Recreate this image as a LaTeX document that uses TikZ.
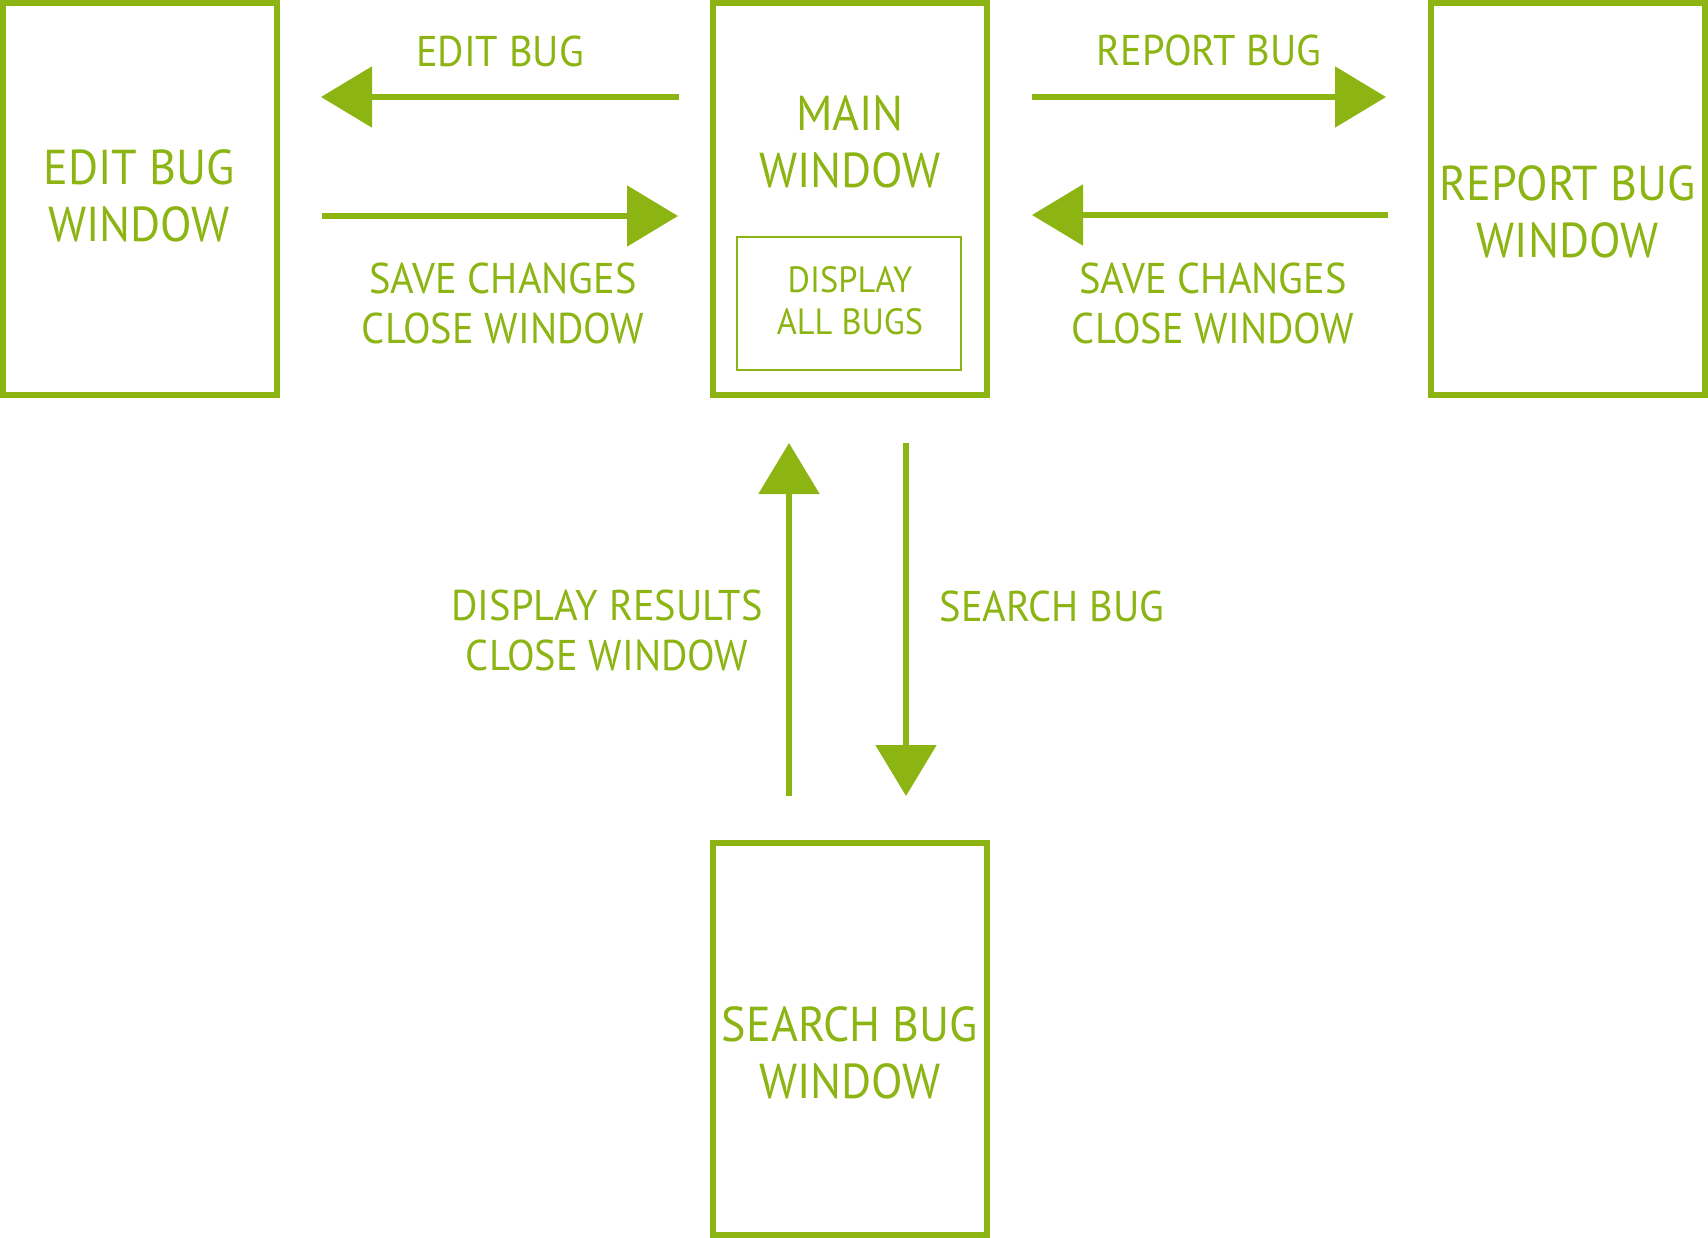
\documentclass[tikz,border=0pt]{standalone}
\usepackage{fontspec}
\setmainfont[FakeStretch=0.94]{PT Sans}
\usetikzlibrary{arrows.meta}
\definecolor{bgreen}{RGB}{140,180,18}
\begin{document}
\begin{tikzpicture}[x=1pt,y=-1pt,
  winbox/.style={draw=bgreen,line width=6pt,minimum width=274pt,minimum height=392pt,inner sep=0pt,outer sep=3pt},
  innerbox/.style={draw=bgreen,line width=2pt,minimum width=224pt,minimum height=133pt,inner sep=0pt},
  bigtxt/.style={text=bgreen,align=center,inner sep=0pt,font=\fontsize{49}{57}\selectfont},
  lbltxt/.style={text=bgreen,align=center,inner sep=0pt,font=\fontsize{43}{50}\selectfont},
  smalltxt/.style={text=bgreen,align=center,inner sep=0pt,font=\fontsize{36.5}{42}\selectfont},
  arr/.style={draw=bgreen,line width=5.5pt,-{Triangle[length=51pt,width=60pt]}}]
\useasboundingbox (0,0) rectangle (1708,1238);
% boxes
\node[winbox] (edit) at (140,199) {};
\node[winbox] (main) at (850,199) {};
\node[winbox] (report) at (1568,199) {};
\node[winbox] (search) at (850,1039) {};
\node[innerbox] (disp) at (849,303.5) {};
% box texts
\node[bigtxt] (edittxt) at (139,196) {EDIT BUG\\WINDOW};
\node[bigtxt] (maintxt) at (850,142) {MAIN\\WINDOW};
\node[bigtxt] (reporttxt) at (1567.5,212) {REPORT BUG\\WINDOW};
\node[bigtxt] (searchtxt) at (850,1053) {SEARCH BUG\\WINDOW};
\node[smalltxt] (disptxt) at (850,301) {DISPLAY\\ALL BUGS};
% arrow labels
\node[lbltxt] (l1) at (500,51) {EDIT BUG};
\node[lbltxt] (l2) at (503,303) {SAVE CHANGES\\CLOSE WINDOW};
\node[lbltxt] (l3) at (1209,50) {REPORT BUG};
\node[lbltxt] (l4) at (1213,303) {SAVE CHANGES\\CLOSE WINDOW};
\node[lbltxt] (l5) at (607,630) {DISPLAY RESULTS\\CLOSE WINDOW};
\node[lbltxt] (l6) at (1052,606) {SEARCH BUG};
% connectors
\draw[arr,shorten <=31pt,shorten >=41pt] (main.west |- 0,97) -- (edit.east |- 0,97);
\draw[arr,shorten <=42pt,shorten >=32pt] (edit.east |- 0,216) -- (main.west |- 0,216);
\draw[arr,shorten <=42pt,shorten >=42pt] (main.east |- 0,97) -- (report.west |- 0,97);
\draw[arr,shorten <=40pt,shorten >=42pt] (report.west |- 0,215) -- (main.east |- 0,215);
\draw[arr,shorten <=44pt,shorten >=45pt] (search.north -| 789,0) -- (main.south -| 789,0);
\draw[arr,shorten <=45pt,shorten >=44pt] (main.south -| 906,0) -- (search.north -| 906,0);
\end{tikzpicture}
\end{document}
